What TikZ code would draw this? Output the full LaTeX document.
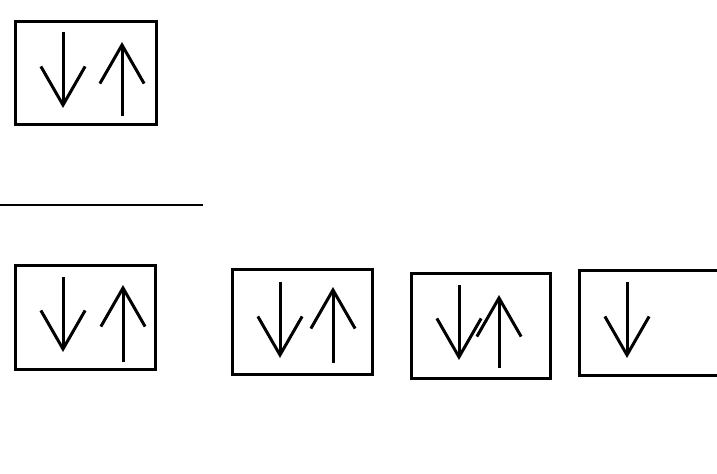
\documentclass[tikz,border=0pt]{standalone}
\usepackage{tikz}
\usetikzlibrary{arrows.meta}

\tikzset{
  cell/.style={draw=black, line width=1.3mm},
  spin/.style={line width=1.05mm, -{Straight Barb[length=13.5mm, width=15.5mm, line join=miter]}}
}

\begin{document}
\begin{tikzpicture}[x=0.35mm, y=-0.35mm]
    \clip (0,0) rectangle (717,474);
    \fill[white] (0,0) rectangle (717,474);

    % upper level
    \draw[cell] (15.5,21.5) rectangle (156.5,124.5);
    \draw[spin] (63,32) -- (63,108);
    \draw[spin] (122,116) -- (122,42);

    \draw[line width=0.9mm] (0,205) -- (203,205);

    % lower level
    \draw[cell] (15.5,265.5) rectangle (155.5,369.5);
    \draw[spin] (63,277) -- (63,352);
    \draw[spin] (123,362) -- (123,285);

    \draw[cell] (232.5,269.5) rectangle (372.5,374.5);
    \draw[spin] (280,282) -- (280,358);
    \draw[spin] (333,363) -- (333,287);

    \draw[cell] (411.5,273.5) rectangle (550.5,378.5);
    \draw[spin] (459,285) -- (459,360);
    \draw[spin] (499,368) -- (499,295);

    \draw[cell] (579.5,270.5) rectangle (725,375.5);
    \draw[spin] (627,282) -- (627,358);
\end{tikzpicture}
\end{document}
